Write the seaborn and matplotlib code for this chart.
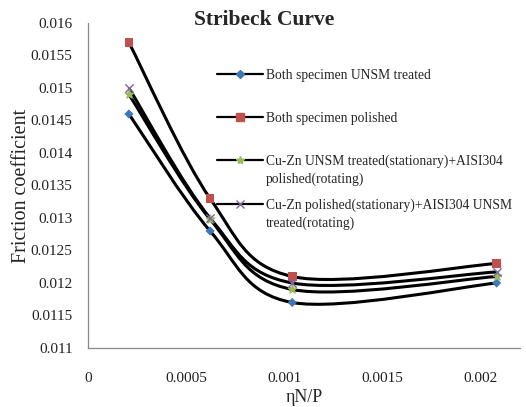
import numpy as np
import pandas as pd
import matplotlib
matplotlib.use("Agg")
import matplotlib.pyplot as plt
import seaborn as sns
from matplotlib.path import Path
from matplotlib.patches import PathPatch
from matplotlib.lines import Line2D

# data
eta_np = [0.000209, 0.000622, 0.00104, 0.00208]
both_unsm = [0.0146, 0.0128, 0.0117, 0.0120]
both_polished = [0.0157, 0.0133, 0.0121, 0.0123]
cuzn_unsm = [0.0149, 0.01298, 0.0119, 0.0121]
cuzn_polished = [0.0150, 0.0130, 0.0120, 0.01217]

labels = ["Both specimen UNSM treated",
          "Both specimen polished",
          "Cu-Zn UNSM treated(stationary)+AISI304\npolished(rotating)",
          "Cu-Zn polished(stationary)+AISI304 UNSM\ntreated(rotating)"]
series = [both_unsm, both_polished, cuzn_unsm, cuzn_polished]

colors = ["#3E76B8", "#C0504D", "#9BBB59", "#8064A2"]
markers = ["D", "s", "*", "x"]
msizes = [22, 40, 40, 36]


def smooth_path(xs, ys):
    # excel-like smoothed line: catmull-rom converted to cubic bezier
    pts = np.column_stack([xs, ys])
    p = np.vstack([pts[0], pts, pts[-1]])
    verts = [pts[0]]
    codes = [Path.MOVETO]
    for i in range(1, len(p) - 2):
        c1 = p[i] + (p[i + 1] - p[i - 1]) / 6
        c2 = p[i + 1] - (p[i + 2] - p[i]) / 6
        verts += [c1, c2, p[i + 1]]
        codes += [Path.CURVE4] * 3
    return Path(verts, codes)


sns.set_style("white")
plt.rcParams["font.family"] = ["Liberation Serif", "DejaVu Serif"]

fig = plt.figure(figsize=(5.26, 4.07), dpi=100)
ax = fig.add_axes([0.167, 0.145, 0.822, 0.7985])

rows = []
for lab, vals in zip(labels, series):
    for x, y in zip(eta_np, vals):
        rows.append({"x": x, "y": y, "series": lab})
df = pd.DataFrame(rows)

for vals in series:
    ax.add_patch(PathPatch(smooth_path(eta_np, vals), facecolor="none",
                           edgecolor="black", lw=2.2, zorder=2))

for lab, c, m, s in zip(labels, colors, markers, msizes):
    sub = df[df["series"] == lab]
    sns.scatterplot(data=sub, x="x", y="y", color=c, marker=m, s=s,
                    edgecolor=c if m in ("x", "*") else "none",
                    linewidth=1.0 if m in ("x", "*") else 0,
                    ax=ax, zorder=3, legend=False)

ax.set_xlim(0, 0.0022)
ax.set_ylim(0.011, 0.016)
ax.set_xticks([0, 0.0005, 0.001, 0.0015, 0.002])
ax.set_xticklabels(["0", "0.0005", "0.001", "0.0015", "0.002"])
ax.set_yticks(np.arange(0.011, 0.01601, 0.0005))
ax.set_yticklabels(["0.011", "0.0115", "0.012", "0.0125", "0.013", "0.0135",
                    "0.014", "0.0145", "0.015", "0.0155", "0.016"])

for side in ["top", "right"]:
    ax.spines[side].set_visible(False)
for side in ["left", "bottom"]:
    ax.spines[side].set_color("#888888")
    ax.spines[side].set_linewidth(0.9)
ax.tick_params(axis="both", direction="out", length=5, width=0.9,
               color="#888888", labelsize=11, labelcolor="#222222")
ax.tick_params(axis="x", pad=12)
ax.tick_params(axis="y", pad=6)

ax.set_xlabel("ηN/P", fontsize=13, labelpad=3.5)
ax.set_ylabel("Friction coefficient", fontsize=14.5, labelpad=0)

fig.text(0.502, 0.952, "Stribeck Curve", ha="center", va="center",
         fontsize=15.5, fontweight="bold")

# legend: first lines in the legend, wrapped second lines placed below
first_lines = [l.split("\n")[0] for l in labels]
handles = []
for c, m in zip(colors, markers):
    handles.append(Line2D([], [], color="black", lw=1.6, marker=m,
                          markerfacecolor=c, markeredgecolor=c,
                          markersize=6 if m != "D" else 4.5,
                          markeredgewidth=1.0))
leg = ax.legend(handles, first_lines, loc="upper left",
                bbox_to_anchor=(0.298, 0.859), frameon=False,
                fontsize=9.8, handlelength=3.38, handletextpad=0.22,
                labelspacing=2.2, borderpad=0, borderaxespad=0)

fig.canvas.draw()
inv = fig.transFigure.inverted()
for txt, lab in zip(leg.get_texts(), labels):
    parts = lab.split("\n")
    if len(parts) < 2:
        continue
    bb = txt.get_window_extent().transformed(inv)
    fig.text(bb.x0, bb.y0 - 0.011, parts[1], ha="left", va="top",
             fontsize=9.8)

fig.savefig("out.png", dpi=100)
